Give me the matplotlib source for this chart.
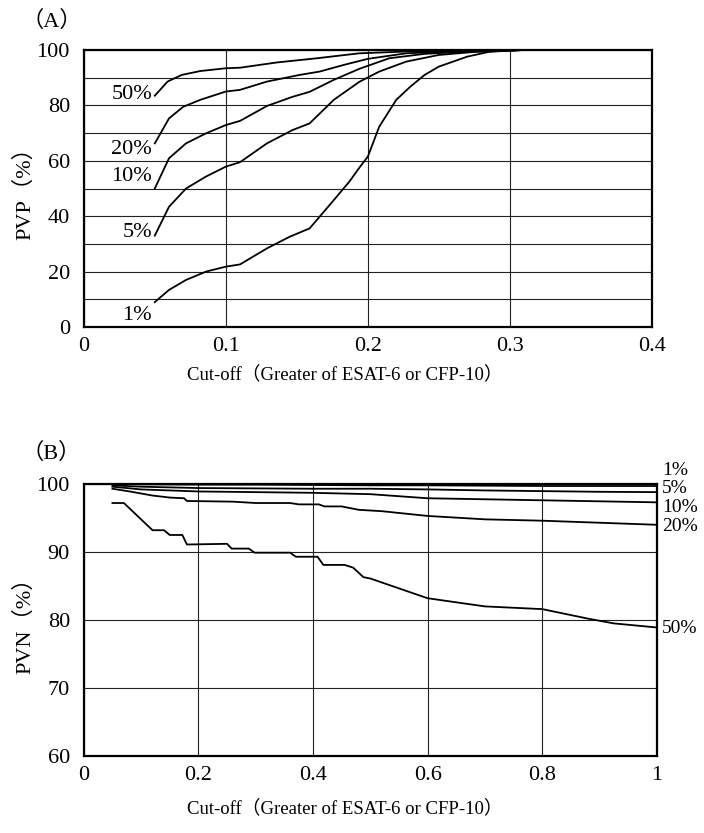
import matplotlib
matplotlib.use("Agg")
import matplotlib.pyplot as plt

plt.rcParams['font.family'] = ['Liberation Serif', 'Noto Sans CJK JP']

# (A) PVP vs cut-off, one curve per prevalence
pvp_labels = ['1%', '5%', '10%', '20%', '50%']
pvp_x = {
    '1%': [0.05, 0.06, 0.072, 0.086, 0.1, 0.11, 0.129, 0.145, 0.159, 0.176, 0.187, 0.194,
           0.2, 0.208, 0.22, 0.23, 0.24, 0.25, 0.27, 0.285, 0.3, 0.31],
    '5%': [0.05, 0.06, 0.072, 0.086, 0.1, 0.11, 0.129, 0.147, 0.159, 0.176, 0.194, 0.208,
           0.227, 0.25, 0.275, 0.3, 0.31],
    '10%': [0.05, 0.06, 0.072, 0.086, 0.1, 0.11, 0.129, 0.147, 0.159, 0.176, 0.194, 0.215,
            0.24, 0.27, 0.3, 0.31],
    '20%': [0.05, 0.06, 0.07, 0.082, 0.1, 0.11, 0.129, 0.152, 0.166, 0.183, 0.2, 0.227,
            0.26, 0.3, 0.31],
    '50%': [0.05, 0.059, 0.069, 0.082, 0.1, 0.11, 0.136, 0.164, 0.194, 0.23, 0.27, 0.3, 0.31],
}
pvp_y = {
    '1%': [9, 13.4, 17, 20, 21.8, 22.6, 28.4, 32.6, 35.6, 45.8, 52.5, 57.5,
           61.5, 72.3, 82, 86.8, 91, 94, 97.6, 99.3, 99.8, 100],
    '5%': [33, 43.4, 50, 54.3, 57.9, 59.5, 66.3, 71.1, 73.5, 82, 88.5, 92.2,
           95.8, 98.2, 99.3, 99.8, 100],
    '10%': [50, 60.9, 66.3, 69.9, 72.9, 74.4, 79.8, 83.1, 84.9, 89.2, 93.2, 97,
            98.6, 99.4, 99.8, 100],
    '20%': [66.3, 75.3, 79.5, 82, 85, 85.6, 88.6, 91, 92.2, 94.6, 96.8, 98.8,
            99.5, 99.8, 100],
    '50%': [83.5, 88.6, 91, 92.4, 93.4, 93.6, 95.5, 97, 98.8, 99.5, 99.8, 99.9, 100],
}
pvp_label_y = [4.3, 34.3, 54.2, 63.9, 83.8]

# (B) PVN vs cut-off
pvn_labels = ['1%', '5%', '10%', '20%', '50%']
pvn_x = {
    '1%': [0.05, 0.1, 0.2, 0.3, 0.4, 0.5, 0.6, 0.7, 0.8, 0.9, 1.0],
    '5%': [0.05, 0.1, 0.2, 0.3, 0.4, 0.5, 0.6, 0.7, 0.8, 0.9, 1.0],
    '10%': [0.05, 0.1, 0.2, 0.3, 0.4, 0.5, 0.6, 0.7, 0.8, 0.9, 1.0],
    '20%': [0.05, 0.08, 0.12, 0.15, 0.175, 0.18, 0.26, 0.3, 0.36, 0.375, 0.41, 0.42,
            0.45, 0.48, 0.52, 0.6, 0.7, 0.8, 0.9, 1.0],
    '50%': [0.05, 0.07, 0.12, 0.14, 0.15, 0.172, 0.18, 0.25, 0.258, 0.288, 0.298, 0.36,
            0.37, 0.408, 0.418, 0.455, 0.47, 0.488, 0.5, 0.6, 0.7, 0.8, 0.88, 0.925, 1.0],
}
pvn_y = {
    '1%': [100, 99.95, 99.9, 99.9, 99.85, 99.8, 99.8, 99.75, 99.7, 99.7, 99.7],
    '5%': [99.8, 99.6, 99.4, 99.35, 99.3, 99.3, 99.2, 99.05, 98.95, 98.85, 98.8],
    '10%': [99.6, 99.2, 98.9, 98.8, 98.7, 98.5, 97.9, 97.75, 97.6, 97.45, 97.3],
    '20%': [99.3, 98.9, 98.3, 98.0, 97.9, 97.5, 97.4, 97.2, 97.2, 97.0, 97.0, 96.7,
            96.7, 96.2, 96.0, 95.3, 94.8, 94.6, 94.3, 94.0],
    '50%': [97.2, 97.2, 93.2, 93.2, 92.5, 92.5, 91.1, 91.2, 90.5, 90.5, 89.9, 89.9,
            89.3, 89.3, 88.1, 88.1, 87.7, 86.3, 86.1, 83.2, 82.0, 81.6, 80.2, 79.5, 78.9],
}
pvn_label_y = [102.0, 99.3, 96.6, 93.7, 78.8]

fs = 16
fig = plt.figure(figsize=(7.04, 8.33), dpi=100)
axA = fig.add_axes([0.119, 0.6074, 0.807, 0.3326])
axB = fig.add_axes([0.119, 0.0924, 0.814, 0.3266])

def style(ax):
    ax.tick_params(length=0, labelsize=fs)
    ax.tick_params(axis='x', pad=7)
    ax.tick_params(axis='y', pad=10)
    for s in ax.spines.values():
        s.set_linewidth(1.6)
    ax.grid(True, color='#222222', lw=0.8)
    ax.set_axisbelow(True)

# panel A
for lab in pvp_labels:
    axA.plot(pvp_x[lab], pvp_y[lab], color='black', lw=1.3)
for lab, ly in zip(pvp_labels, pvp_label_y):
    axA.text(0.048, ly, lab, ha='right', va='center', fontsize=fs)
axA.set_xlim(0, 0.4)
axA.set_ylim(0, 100)
axA.set_xticks([0, 0.1, 0.2, 0.3, 0.4])
axA.set_xticklabels(['0', '0.1', '0.2', '0.3', '0.4'])
axA.set_yticks(range(0, 101, 20))
axA.set_yticks(range(0, 101, 10), minor=True)
style(axA)
axA.grid(True, which='minor', axis='y', color='#222222', lw=0.8)
axA.tick_params(which='minor', length=0)
axA.set_ylabel('PVP（%）', fontsize=fs, va='center')
axA.yaxis.set_label_coords(-0.104, 0.5)
axA.set_xlabel('Cut-off（Greater of ESAT-6 or CFP-10）', fontsize=13.5)
axA.xaxis.set_label_coords(0.46, -0.14)

# panel B
for lab in pvn_labels:
    axB.plot(pvn_x[lab], pvn_y[lab], color='black', lw=1.3)
for lab, ly in zip(pvn_labels, pvn_label_y):
    axB.text(1.009, ly, lab, ha='left', va='center', fontsize=14, clip_on=False)
axB.set_xlim(0, 1)
axB.set_ylim(60, 100)
axB.set_xticks([0, 0.2, 0.4, 0.6, 0.8, 1.0])
axB.set_xticklabels(['0', '0.2', '0.4', '0.6', '0.8', '1'])
axB.set_yticks(range(60, 101, 10))
style(axB)
axB.set_ylabel('PVN（%）', fontsize=fs, va='center')
axB.yaxis.set_label_coords(-0.103, 0.5)
axB.set_xlabel('Cut-off（Greater of ESAT-6 or CFP-10）', fontsize=13.5)
axB.xaxis.set_label_coords(0.455, -0.16)

fig.text(0.03, 0.974, '（A）', fontsize=fs, ha='left', va='center')
fig.text(0.03, 0.456, '（B）', fontsize=fs, ha='left', va='center')

fig.savefig('out.png', dpi=100)
